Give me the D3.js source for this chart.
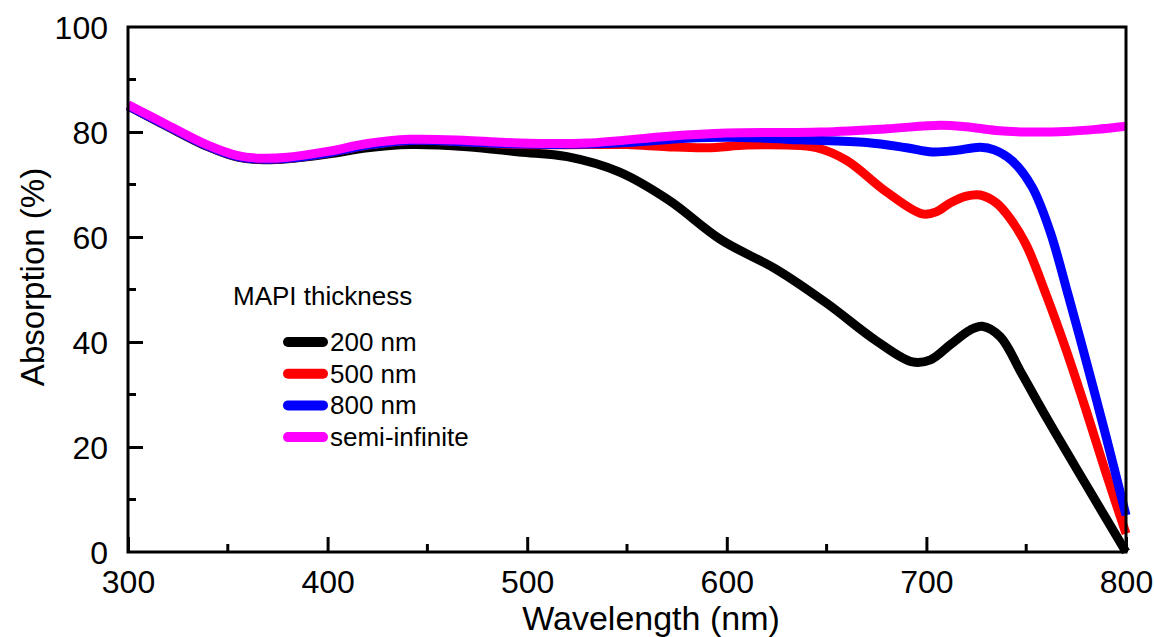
<!DOCTYPE html>
<html>
<head>
<meta charset="utf-8">
<script src="https://cdn.jsdelivr.net/npm/d3@7"></script>
<style>
  body { margin: 0; background: #fff; }
  svg text { font-family: "Liberation Sans", Arial, sans-serif; fill: #000; }
</style>
</head>
<body>
<svg id="chart"></svg>
<script>
// wavelength (nm) / absorption (%) pairs
const wl200 = [300, 320, 340, 355, 368, 380, 400, 420, 441, 470, 496, 520, 546, 571, 597, 625, 650, 675, 693, 702, 712, 722, 728, 737, 748, 760, 780, 800];
const abs200 = [85.0, 81.0, 77.2, 75.2, 74.7, 74.9, 75.8, 77.0, 77.6, 77.2, 76.2, 75.3, 72.4, 67.0, 59.5, 53.8, 47.4, 40.2, 36.2, 36.6, 39.5, 42.3, 43.0, 41.0, 33.8, 25.7, 12.8, 0.0];

const wl500 = [300, 320, 340, 355, 368, 380, 400, 420, 441, 470, 496, 530, 550, 570, 590, 610, 630, 645, 660, 680, 698, 705, 712, 720, 727, 735, 742, 750, 760, 770, 780, 790, 800];
const abs500 = [85.0, 81.1, 77.3, 75.3, 74.8, 75.0, 76.0, 77.5, 78.4, 78.1, 77.6, 77.6, 77.6, 77.2, 77.0, 77.5, 77.5, 77.0, 74.6, 68.6, 64.4, 64.8, 66.5, 67.8, 68.0, 66.5, 63.5, 58.5, 49.0, 38.5, 27.0, 15.0, 3.5];

const wl800 = [300, 320, 340, 355, 368, 380, 400, 420, 441, 470, 496, 530, 550, 580, 600, 620, 637, 670, 690, 703, 715, 727, 734, 743, 753, 762, 771, 781, 790, 800];
const abs800 = [85.0, 81.1, 77.3, 75.3, 74.8, 75.0, 76.0, 77.5, 78.4, 78.1, 77.7, 77.7, 78.0, 78.8, 79.0, 78.8, 78.5, 78.0, 77.0, 76.2, 76.5, 77.1, 76.6, 74.5, 69.5, 61.0, 49.0, 35.0, 22.0, 7.0];

const wlSemi = [300, 320, 340, 355, 366, 380, 400, 420, 441, 470, 496, 530, 571, 600, 647, 680, 707, 720, 735, 750, 770, 785, 800];
const absSemi = [85.2, 81.3, 77.5, 75.5, 75.0, 75.2, 76.3, 77.8, 78.6, 78.4, 77.9, 77.9, 79.2, 79.8, 80.0, 80.6, 81.3, 81.0, 80.3, 80.0, 80.1, 80.5, 81.1];

const seriesNames = ["200 nm", "500 nm", "800 nm", "semi-infinite"];
const seriesColors = ["#000000", "#ff0000", "#0000ff", "#ff00ff"];
const seriesX = [wl200, wl500, wl800, wlSemi];
const seriesY = [abs200, abs500, abs800, absSemi];

const xTicks = [300, 400, 500, 600, 700, 800];
const yTicks = [0, 20, 40, 60, 80, 100];

const width = 1154, height = 637;
const margin = { left: 128, top: 27, right: 28, bottom: 85 };

const svg = d3.select("#chart").attr("width", width).attr("height", height);

const x = d3.scaleLinear().domain([300, 800]).range([margin.left, width - margin.right]);
const y = d3.scaleLinear().domain([0, 100]).range([height - margin.bottom, margin.top]);

const line = d3.line()
    .x(d => x(d[0]))
    .y(d => y(d[1]))
    .curve(d3.curveCatmullRom.alpha(0.5));

// curves (semi-infinite drawn last, on top)
seriesNames.forEach((name, i) => {
    const pts = seriesX[i].map((w, j) => [w, seriesY[i][j]]);
    svg.append("path")
       .datum(pts)
       .attr("d", line)
       .attr("fill", "none")
       .attr("stroke", seriesColors[i])
       .attr("stroke-width", 9)
       .attr("stroke-linejoin", "round");
});

// frame
svg.append("rect")
   .attr("x", x(300))
   .attr("y", y(100))
   .attr("width", x(800) - x(300))
   .attr("height", y(0) - y(100))
   .attr("fill", "none")
   .attr("stroke", "#000")
   .attr("stroke-width", 3);

// bottom axis, ticks pointing inward
const xAxis = svg.append("g")
   .attr("transform", `translate(0,${y(0)})`)
   .call(d3.axisBottom(x).tickValues(xTicks).tickSize(-15).tickSizeOuter(0).tickPadding(0))
   .call(g => g.select(".domain").remove());
xAxis.selectAll(".tick line").attr("stroke", "#000").attr("stroke-width", 3);
xAxis.selectAll(".tick text")
   .attr("y", 41)
   .attr("dy", null)
   .attr("font-size", 32);

const xMinor = d3.range(350, 800, 100);
svg.selectAll(".xminor")
   .data(xMinor)
   .enter()
   .append("line")
   .attr("x1", d => x(d)).attr("x2", d => x(d))
   .attr("y1", y(0)).attr("y2", y(0) - 8)
   .attr("stroke", "#000")
   .attr("stroke-width", 3);

// left axis
const yAxis = svg.append("g")
   .attr("transform", `translate(${x(300)},0)`)
   .call(d3.axisLeft(y).tickValues(yTicks).tickSize(-15).tickSizeOuter(0).tickPadding(0))
   .call(g => g.select(".domain").remove());
yAxis.selectAll(".tick line").attr("stroke", "#000").attr("stroke-width", 3);
yAxis.selectAll(".tick text")
   .attr("x", -20)
   .attr("dy", "0.36em")
   .attr("font-size", 32);
yAxis.selectAll(".tick").filter(d => d === 0 || d === 100).select("line").remove();

const yMinor = d3.range(10, 100, 20);
svg.selectAll(".yminor")
   .data(yMinor)
   .enter()
   .append("line")
   .attr("x1", x(300)).attr("x2", x(300) + 8)
   .attr("y1", d => y(d)).attr("y2", d => y(d))
   .attr("stroke", "#000")
   .attr("stroke-width", 3);

// axis titles
svg.append("text")
   .attr("x", (x(300) + x(800)) / 2 + 24)
   .attr("y", 630)
   .attr("text-anchor", "middle")
   .attr("font-size", 34)
   .text("Wavelength (nm)");

svg.append("text")
   .attr("transform", `translate(44,277) rotate(-90)`)
   .attr("text-anchor", "middle")
   .attr("font-size", 33)
   .text("Absorption (%)");

// legend
svg.append("text")
   .attr("x", 233)
   .attr("y", 305)
   .attr("font-size", 26)
   .text("MAPI thickness");

const legend = svg.selectAll(".legend-item")
   .data(seriesNames)
   .enter()
   .append("g")
   .attr("transform", (d, i) => `translate(0,${342 + i * 31.7})`);

legend.append("line")
   .attr("x1", 288).attr("x2", 323)
   .attr("y1", 0).attr("y2", 0)
   .attr("stroke", (d, i) => seriesColors[i])
   .attr("stroke-width", 10)
   .attr("stroke-linecap", "round");

legend.append("text")
   .attr("x", 330)
   .attr("y", 9)
   .attr("font-size", 26)
   .text(d => d);
</script>
</body>
</html>
